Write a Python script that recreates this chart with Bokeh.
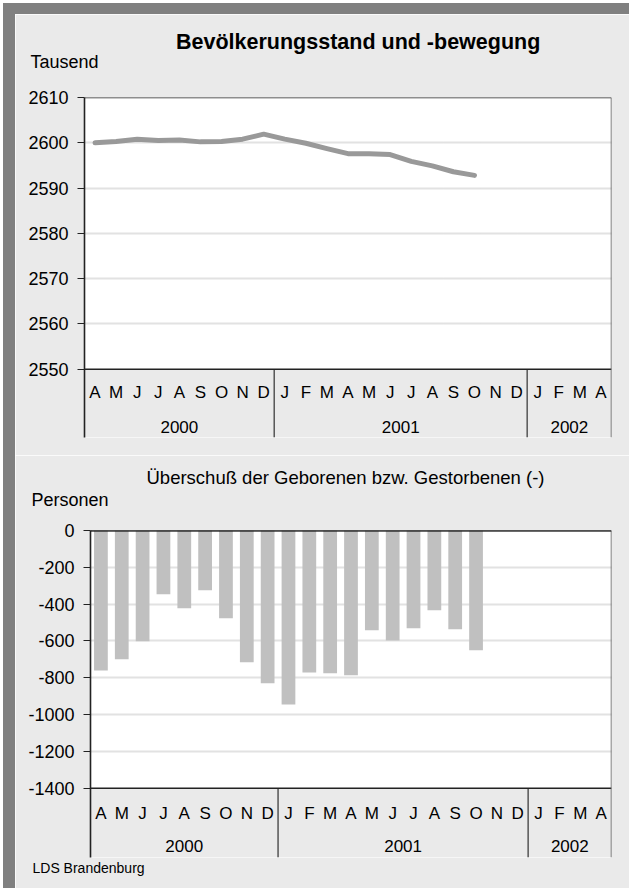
from bokeh.plotting import figure
from bokeh.models import Range1d, FixedTicker, Span, BoxAnnotation, Title, ColumnDataSource
from bokeh.embed import file_html
from bokeh.resources import INLINE
from bokeh.core.properties import value

# ---------------- data ----------------
month_letters = ["A", "M", "J", "J", "A", "S", "O", "N", "D",
                 "J", "F", "M", "A", "M", "J", "J", "A", "S", "O", "N", "D",
                 "J", "F", "M", "A"]
years = ["2000", "2001", "2002"]
months_per_year = [9, 12, 4]

population = [2600.0, 2600.3, 2600.8, 2600.5, 2600.6, 2600.2, 2600.3, 2600.8, 2601.9,
              2600.8, 2599.9, 2598.7, 2597.6, 2597.6, 2597.4, 2595.9, 2594.9, 2593.6, 2592.8]
balance = [-760, -700, -602, -346, -422, -325, -477, -716, -830,
           -945, -771, -776, -787, -542, -597, -531, -433, -537, -651]

pop_ticks = [2550, 2560, 2570, 2580, 2590, 2600, 2610]
pop_tick_labels = ["2550", "2560", "2570", "2580", "2590", "2600", "2610"]
bal_ticks = [0, -200, -400, -600, -800, -1000, -1200, -1400]
bal_tick_labels = ["0", "-200", "-400", "-600", "-800", "-1000", "-1200", "-1400"]

title_top = "Bevölkerungsstand und -bewegung"
unit_top = "Tausend"
title_bottom = "Überschuß der Geborenen bzw. Gestorbenen (-)"
unit_bottom = "Personen"
source_note = "LDS Brandenburg"

# ---------------- style ----------------
FONT = "Liberation Sans"
BG = "#eaeaea"
DARK = "#808080"
GRID = "#c4c4c4"

n_months = len(month_letters)
month_x = list(range(n_months))
year_x = []
sep_x = []
start = 0
for c in months_per_year:
    year_x.append(start + (c - 1) / 2)
    start += c
    sep_x.append(start - 0.5)
sep_x = sep_x[:-1]


def base_chart(height, mb_left, mb_top, mb_bottom, y_start, y_end, ticks, labels, axis_val, top_val):
    p = figure(width=614, height=height,
               x_range=Range1d(-0.5, n_months - 0.5), y_range=Range1d(y_start, y_end),
               output_backend="svg", toolbar_location=None, x_axis_location=None,
               min_border_left=mb_left, min_border_right=18,
               min_border_top=mb_top, min_border_bottom=mb_bottom,
               background_fill_color="white", border_fill_color=BG,
               outline_line_color=None)
    ax = p.yaxis[0]
    ax.ticker = FixedTicker(ticks=ticks)
    ax.major_label_overrides = {t: l for t, l in zip(ticks, labels)}
    ax.major_label_text_font = FONT
    ax.major_label_text_font_size = "18px"
    ax.major_label_text_color = "black"
    ax.major_label_standoff = 9
    ax.major_tick_out = 7
    ax.major_tick_in = 0
    ax.major_tick_line_color = "#222222"
    ax.major_tick_line_width = 1
    ax.minor_tick_line_color = None
    ax.axis_line_color = "#222222"
    ax.axis_line_width = 1.6
    p.xgrid.visible = False
    grid_ticks = [t for t in ticks if min(ticks) < t < max(ticks)]
    p.ygrid[0].ticker = FixedTicker(ticks=grid_ticks)
    p.ygrid.grid_line_color = GRID
    p.ygrid.grid_line_width = 2
    p.ygrid.grid_line_dash = "1 1"
    lo = min(ticks)
    p.add_layout(BoxAnnotation(top=lo, fill_color=BG, fill_alpha=1, line_color=None, level="underlay"))
    p.add_layout(Span(location=top_val, dimension="width", line_color="#222222", line_width=1.5))
    p.add_layout(Span(location=axis_val, dimension="width", line_color="#222222", line_width=1.5))
    p.add_layout(Span(location=n_months - 0.5, dimension="height", line_color="#555555", line_width=1.5))
    p.segment(x0=sep_x, x1=sep_x, y0=[lo] * len(sep_x), y1=[y_start] * len(sep_x),
              line_color="#555555", line_width=1.5)
    return p


def add_month_labels(p, month_y, year_y):
    src_m = ColumnDataSource(dict(x=month_x, y=[month_y] * n_months, t=month_letters))
    p.text(x="x", y="y", text="t", source=src_m, text_font=value(FONT), text_font_size="17px",
           text_align="center", text_baseline="middle", text_color="black")
    src_y = ColumnDataSource(dict(x=year_x, y=[year_y] * len(years), t=years))
    p.text(x="x", y="y", text="t", source=src_y, text_font=value(FONT), text_font_size="17px",
           text_align="center", text_baseline="middle", text_color="black")


def add_title(p, text, side, size, align, offset, standoff, bold=False):
    t = Title(text=text, align=align, offset=offset, standoff=standoff,
              text_font=FONT, text_font_size=size, text_color="black",
              text_font_style="bold" if bold else "normal")
    p.add_layout(t, side)


# ---------------- top chart ----------------
p1 = base_chart(441, 69, 83, 18, 2534.9, 2610, pop_ticks, pop_tick_labels, 2550, 2610)
p1.line(x=month_x[:len(population)], y=population, line_color="#999999", line_width=5,
        line_join="round", line_cap="round")
add_month_labels(p1, 2544.8, 2537.2)
add_title(p1, " ", "above", "10px", "left", 0, 19.9)          # spacer
add_title(p1, unit_top, "above", "18px", "left", -54, -14)
add_title(p1, title_top, "above", "21.5px", "left", 91.5, 5.1, bold=True)

# ---------------- bottom chart ----------------
p2 = base_chart(433, 75, 75, 31, -1776.5, 0, bal_ticks, bal_tick_labels, -1400, 0)
p2.vbar(x=month_x[:len(balance)], top=[0] * len(balance), bottom=balance, width=0.66,
        fill_color="#c0c0c0", line_color=None)
p2.add_layout(Span(location=0, dimension="width", line_color="#111111", line_width=2))
add_month_labels(p2, -1535.8, -1716.7)
add_title(p2, " ", "above", "10px", "left", 0, 14.9)          # spacer
add_title(p2, unit_bottom, "above", "18px", "left", -59, -14)
add_title(p2, title_bottom, "above", "18.5px", "left", 56, 12.5)
add_title(p2, source_note, "below", "14px", "left", -58, 0)

p1.styles = {"margin-left": "15px", "margin-top": "14px",
             "box-shadow": "-12px 0px 0px 0px %s, 0px -11px 0px 0px %s, -12px -11px 0px 0px %s"
                           % (DARK, DARK, DARK)}
p2.styles = {"margin-left": "15px", "box-shadow": "-12px 0px 0px 0px " + DARK}

open("out.html", "w").write(file_html([p1, p2], INLINE))
